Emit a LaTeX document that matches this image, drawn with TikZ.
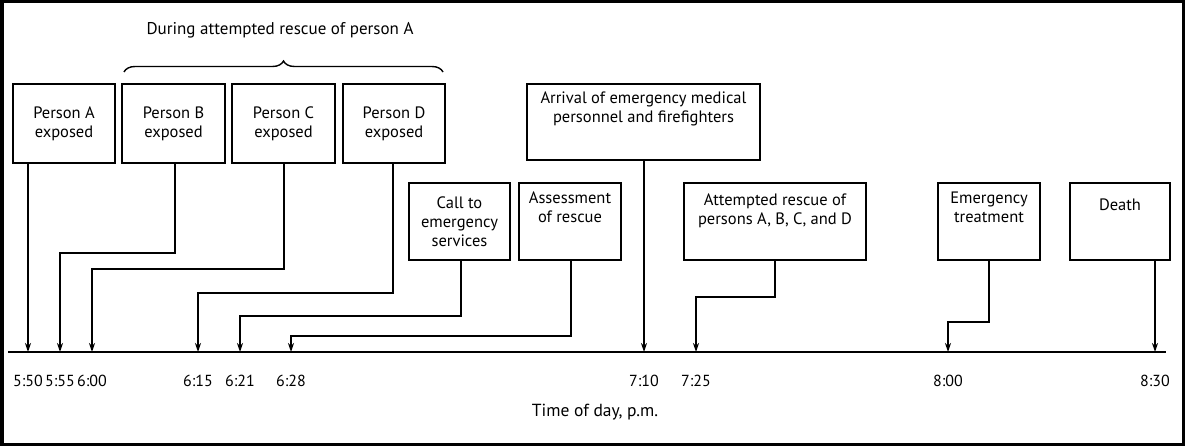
\documentclass[tikz,border=0pt]{standalone}
\usepackage{fontspec}
\setmainfont{PT Sans}
\usetikzlibrary{arrows.meta,decorations.pathreplacing}
\begin{document}
\begin{tikzpicture}[x=1pt,y=-1pt,
  box/.style={draw,line width=2pt,align=center,font=\fontsize{16.5}{19}\selectfont,inner sep=0pt},
  conn/.style={line width=1.4pt,-{Stealth[length=9pt,width=6pt]}},
  lab/.style={font=\fontsize{16}{18}\selectfont}]
\useasboundingbox (0,0) rectangle (1185,446);
\draw[line width=3.5pt] (1.75,1.75) rectangle (1183.25,444.25);
% timeline
\draw[line width=2pt] (8,352) -- (1166,352);
\foreach \n/\x/\t in {a/28/5:50,b/60/5:55,c/92/6:00,d/198/6:15,e/240/6:21,f/291/6:28,g/644/7:10,h/696/7:25,i/948/8:00,j/1155/8:30}{
  \coordinate (t\n) at (\x,352);
  \node[lab] (l\n) at (\x,381) {\t};
}
\node[lab,font=\fontsize{17.5}{20}\selectfont] (axis) at (595,412) {Time of day, p.m.};
% boxes
\node[box,minimum width=102pt,minimum height=79pt] (A) at (64,123.5) {Person A\\exposed};
\node[box,minimum width=103pt,minimum height=79pt] (B) at (173.5,123.5) {Person B\\exposed};
\node[box,minimum width=103pt,minimum height=79pt] (C) at (283.5,123.5) {Person C\\exposed};
\node[box,minimum width=102pt,minimum height=79pt] (D) at (394,123.5) {Person D\\exposed};
\node[box,minimum width=233pt,minimum height=76pt] (Ar) at (643.5,122) {Arrival of emergency medical\\personnel and firefighters\\[10pt]};
\node[box,minimum width=101pt,minimum height=77pt] (Ca) at (459.5,221.5) {Call to\\emergency\\services};
\node[box,minimum width=102pt,minimum height=77pt] (As) at (570,221.5) {Assessment\\of rescue\\[10pt]};
\node[box,minimum width=182pt,minimum height=77pt] (At) at (775,221.5) {Attempted rescue of\\persons A, B, C, and D\\[6pt]};
\node[box,minimum width=102pt,minimum height=77pt] (Em) at (989,221.5) {Emergency\\treatment\\[10pt]};
\node[box,minimum width=100pt,minimum height=77pt] (De) at (1120,221.5) {Death\\[14pt]};
% brace
\draw[line width=1.4pt,decorate,decoration={brace,amplitude=11pt}] (124,72) -- (443,72);
\node[lab,font=\fontsize{17}{19}\selectfont] (dur) at (280,30) {During attempted rescue of person A};
% connectors
\draw[conn] (A.south -| ta) -- (ta);
\draw[conn] (175,163) |- (60,253) -- (tb);
\draw[conn] (284,163) |- (92,269) -- (tc);
\draw[conn] (393,163) |- (198,293) -- (td);
\draw[conn] (461,260) |- (240,316) -- (te);
\draw[conn] (571,260) |- (291,336) -- (tf);
\draw[conn] (Ar.south -| tg) -- (tg);
\draw[conn] (775,260) |- (696,297) -- (th);
\draw[conn] (989,260) |- (948,322) -- (ti);
\draw[conn] (De.south -| tj) -- (tj);
\end{tikzpicture}
\end{document}
